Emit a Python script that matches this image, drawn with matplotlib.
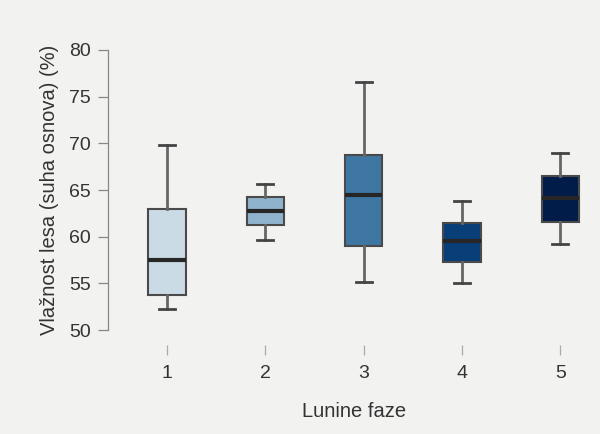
import matplotlib
matplotlib.use('Agg')
import matplotlib.pyplot as plt

# Lunine faze in vlaznost lesa (%)
phases = [1, 2, 3, 4, 5]
whisker_low = [52.2, 59.6, 55.1, 55.0, 59.2]
q1 = [53.8, 61.2, 59.0, 57.3, 61.6]
median = [57.5, 62.7, 64.5, 59.5, 64.1]
q3 = [63.0, 64.2, 68.8, 61.5, 66.5]
whisker_high = [69.8, 65.6, 76.6, 63.8, 69.0]
box_colors = ['#cbdbe5', '#8fb3cd', '#3f77a3', '#083f78', '#021c4a']

bg = '#f2f3f1'
plt.rcParams['font.family'] = ['Liberation Sans', 'DejaVu Sans']

fig = plt.figure(figsize=(6, 4.34), dpi=100, facecolor=bg)
ax = fig.add_axes([0.18, 0.2396, 0.8195, 0.6452], facecolor=bg)

stats = []
for i in range(len(phases)):
    stats.append({'whislo': whisker_low[i], 'q1': q1[i], 'med': median[i],
                  'q3': q3[i], 'whishi': whisker_high[i], 'label': str(phases[i])})

bp = ax.bxp(stats, positions=phases, widths=0.38, patch_artist=True,
            showfliers=False, capwidths=0.16,
            boxprops=dict(edgecolor='#4a4a4a', linewidth=1.5),
            whiskerprops=dict(color='#666666', linewidth=2),
            capprops=dict(color='#444444', linewidth=2),
            medianprops=dict(color='#262626', linewidth=3))
for patch, c in zip(bp['boxes'], box_colors):
    patch.set_facecolor(c)

ax.set_xlim(0.4, 5.4)
ax.set_ylim(50, 80)
ax.set_yticks([50, 55, 60, 65, 70, 75, 80])

for s in ['top', 'right']:
    ax.spines[s].set_visible(False)
ax.spines['bottom'].set_position(('outward', 10.8))
ax.spines['bottom'].set_visible(False)
ax.spines['left'].set_color('#888888')
ax.spines['left'].set_linewidth(0.9)

ax.tick_params(axis='y', length=7, width=0.9, color='#888888', pad=5.5,
               labelsize=14, labelcolor='#333333')
ax.tick_params(axis='x', length=7, width=0.9, color='#aaaaaa', pad=7.5,
               labelsize=14, labelcolor='#333333')

ax.set_xlabel('Lunine faze', fontsize=14.5, color='#333333', labelpad=14)
ax.set_ylabel('Vlažnost lesa (suha osnova) (%)', fontsize=14.5, color='#333333', labelpad=7)

fig.savefig('out.png', dpi=100, facecolor=bg)
